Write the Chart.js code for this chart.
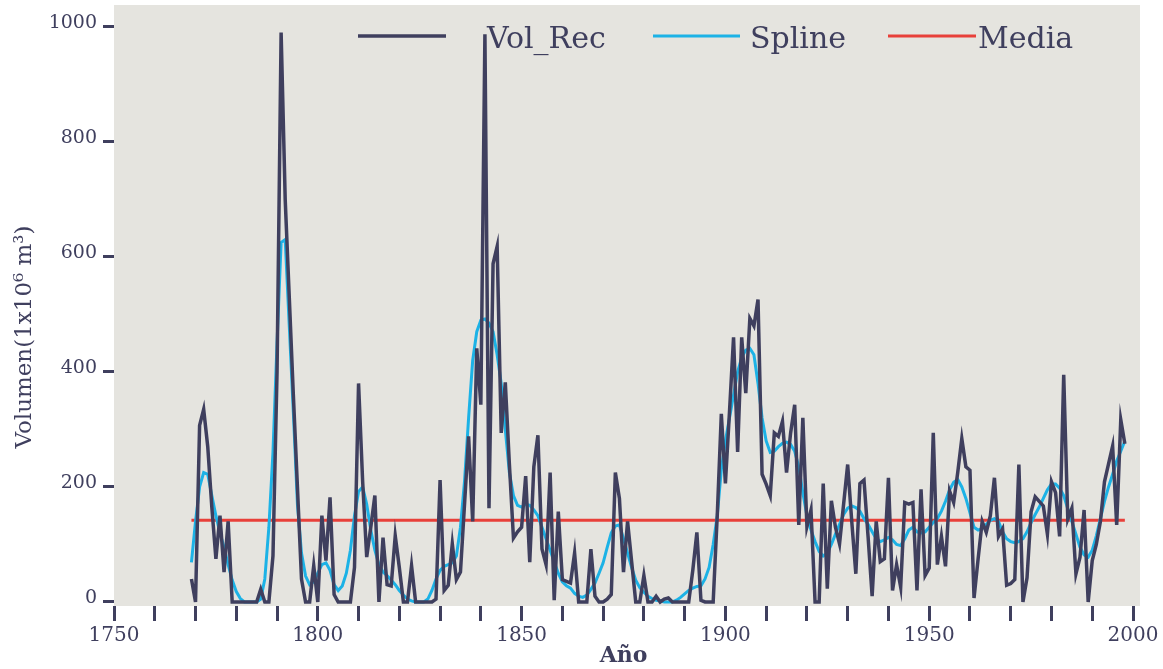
<!DOCTYPE html>
<html>
<head>
<meta charset="utf-8">
<script src="https://cdn.jsdelivr.net/npm/chart.js@4"></script>
<style>
  body { margin: 0; background: #ffffff; }
  #wrap { width: 1163px; height: 669px; position: relative; }
</style>
</head>
<body>
<div id="wrap"><canvas id="myChart"></canvas></div>
<script>
// datos: volumen reconstruido anual, spline y media
const firstYear = 1769;
const volRec = [
  40,
  0, 307, 335, 270, 165, 75, 150, 52, 140, 0,
  0, 0, 0, 0, 0, 0, 22, 0, 0, 80,
  400, 990, 700, 530, 360, 200, 40, 0, 0, 63,
  0, 150, 72, 182, 13, 0, 0, 0, 0, 60,
  380, 210, 78, 130, 185, 0, 112, 30, 28, 115,
  60, 0, 0, 63, 0, 0, 0, 0, 0, 5,
  212, 20, 29, 101, 39, 52, 170, 288, 140, 441,
  343, 987, 163, 588, 618, 294, 382, 240, 111, 122,
  130, 219, 69, 235, 290, 92, 65, 225, 3, 157,
  39, 36, 33, 85, 0, 0, 0, 92, 10, 0,
  0, 5, 13, 225, 180, 52, 140, 70, 0, 0,
  46, 0, 0, 10, 0, 5, 7, 0, 0, 0,
  0, 0, 55, 121, 3, 0, 0, 0, 150, 327,
  206, 330, 460, 261, 460, 363, 493, 480, 526, 222,
  205, 185, 294, 288, 314, 225, 294, 343, 134, 320,
  131, 160, 0, 0, 206, 23, 176, 130, 101, 170,
  239, 140, 49, 206, 212, 114, 10, 140, 70, 75,
  216, 20, 65, 26, 173, 170, 173, 20, 196, 46,
  59, 294, 65, 114, 62, 193, 173, 225, 284, 235,
  229, 7, 75, 140, 121, 150, 216, 114, 127, 29,
  32, 39, 239, 0, 42, 157, 183, 175, 167, 118,
  209, 190, 114, 395, 144, 163, 49, 78, 160, 0,
  72, 100, 140, 209, 240, 271, 134, 317, 275
];
const spline = [
  69,
  140, 200, 225, 222, 185, 150, 120, 95, 65, 38,
  18, 6, 0, 0, 0, 0, 5, 40, 130, 260,
  450, 625, 630, 480, 330, 170, 85, 45, 30, 35,
  50, 65, 68, 55, 30, 20, 28, 50, 90, 150,
  192, 200, 170, 125, 90, 65, 52, 46, 38, 30,
  20, 12, 5, 2, 0, 0, 0, 5, 20, 40,
  55, 62, 65, 68, 80, 130, 210, 320, 420, 470,
  490, 492, 485, 470, 430, 380, 300, 225, 185, 168,
  165, 170, 168, 160, 150, 130, 110, 90, 70, 50,
  35, 28, 24, 15, 10, 8, 12, 22, 33, 50,
  68, 95, 120, 132, 134, 110, 85, 60, 38, 25,
  17, 10, 6, 3, 2, 0, 0, 0, 3, 8,
  14, 20, 24, 27, 28, 40, 60, 100, 150, 230,
  280, 320, 360, 400, 425, 438, 441, 430, 380, 320,
  280, 260, 262, 270, 276, 278, 274, 262, 235, 190,
  150, 125, 105, 88, 80, 85, 100, 118, 135, 152,
  163, 167, 164, 158, 145, 135, 122, 110, 105, 108,
  112, 108, 100, 98, 110, 125, 130, 122, 120, 122,
  130, 138, 145, 158, 175, 195, 208, 213, 200, 180,
  155, 130, 125, 128, 135, 142, 145, 140, 122, 110,
  105, 103, 105, 110, 122, 138, 152, 165, 180, 195,
  205, 205, 198, 185, 162, 140, 118, 95, 82, 78,
  90, 115, 145, 175, 200, 222, 245, 262, 280
];
const mediaYears = [1769, 1998];
const mediaValues = [142, 142];
const xLabelTicks = [1750, 1800, 1850, 1900, 1950, 2000];
const yTicks = [0, 200, 400, 600, 800, 1000];

// colores
const dark = '#3f3f5e';
const cyan = '#1cb2e6';
const red = '#e8403a';
const plotBg = '#e5e4df';
const serif = "'DejaVu Serif', serif";

const toPoints = (vals) => vals.map((v, i) => ({ x: firstYear + i, y: v }));

// fondo gris del area de trazado + leyenda y titulo del eje y
const extras = {
  id: 'extras',
  beforeDraw(chart) {
    const { ctx, chartArea: a } = chart;
    ctx.save();
    ctx.fillStyle = plotBg;
    ctx.fillRect(a.left, a.top, a.right - a.left + 7, a.bottom - a.top);
    ctx.restore();
  },
  afterDatasetsDraw(chart) {
    const ctx = chart.ctx;
    const items = [
      { text: 'Vol_Rec', color: dark, w: 3.5, x1: 358, x2: 446, tx: 487 },
      { text: 'Spline', color: cyan, w: 3, x1: 653, x2: 740, tx: 750 },
      { text: 'Media', color: red, w: 3, x1: 888, x2: 976, tx: 978 }
    ];
    ctx.save();
    items.forEach(it => {
      ctx.strokeStyle = it.color;
      ctx.lineWidth = it.w;
      ctx.beginPath();
      ctx.moveTo(it.x1, 36);
      ctx.lineTo(it.x2, 36);
      ctx.stroke();
      ctx.fillStyle = dark;
      ctx.font = "30px " + serif;
      ctx.textBaseline = 'alphabetic';
      ctx.textAlign = 'left';
      ctx.fillText(it.text, it.tx, 48);
    });
    // titulo eje y
    ctx.translate(25, 337);
    ctx.rotate(-Math.PI / 2);
    ctx.font = "23px " + serif;
    ctx.textAlign = 'center';
    ctx.textBaseline = 'middle';
    ctx.fillStyle = dark;
    ctx.fillText('Volumen(1x10\u2076 m\u00b3)', 0, 0);
    ctx.restore();
  }
};

const ctx = document.getElementById('myChart').getContext('2d');
const myChart = new Chart(ctx, {
  type: 'line',
  data: {
    datasets: [
      { label: 'Vol_Rec', data: toPoints(volRec), borderColor: dark, borderWidth: 3.5, pointRadius: 0, tension: 0 },
      { label: 'Spline', data: toPoints(spline), borderColor: cyan, borderWidth: 3, pointRadius: 0, tension: 0 },
      { label: 'Media', data: mediaYears.map((y, i) => ({ x: y, y: mediaValues[i] })), borderColor: red, borderWidth: 3, pointRadius: 0 }
    ]
  },
  options: {
    responsive: true,
    maintainAspectRatio: false,
    animation: false,
    layout: { autoPadding: false, padding: { top: 5, right: 30, left: 0, bottom: 0 } },
    plugins: { legend: { display: false }, tooltip: { enabled: false } },
    scales: {
      x: {
        type: 'linear',
        min: 1750,
        max: 2000,
        afterFit: (s) => { s.height = 63; s.paddingLeft = 0; s.paddingRight = 0; },
        border: { display: false },
        grid: { drawOnChartArea: false, drawTicks: true, tickLength: 15, tickWidth: 3, tickColor: dark },
        ticks: {
          stepSize: 10,
          autoSkip: false,
          maxRotation: 0,
          padding: 3,
          color: dark,
          font: { family: serif, size: 20 },
          callback: (v) => xLabelTicks.includes(v) ? String(v) : ''
        },
        title: { display: true, text: 'Año', color: dark, font: { family: serif, size: 22, weight: 'bold' }, padding: { top: 0, bottom: 0 } }
      },
      y: {
        min: -7,
        max: 1038,
        afterFit: (s) => { s.width = 114; s.paddingTop = 0; s.paddingBottom = 0; },
        afterBuildTicks: (s) => { s.ticks = yTicks.map(v => ({ value: v })); },
        border: { display: false },
        grid: { drawOnChartArea: false, drawTicks: true, tickLength: 11, tickWidth: 3, tickColor: dark },
        ticks: {
          padding: 6,
          labelOffset: -4,
          color: dark,
          font: { family: serif, size: 19 },
          callback: (v) => String(v)
        }
      }
    }
  },
  plugins: [extras]
});
</script>
</body>
</html>
